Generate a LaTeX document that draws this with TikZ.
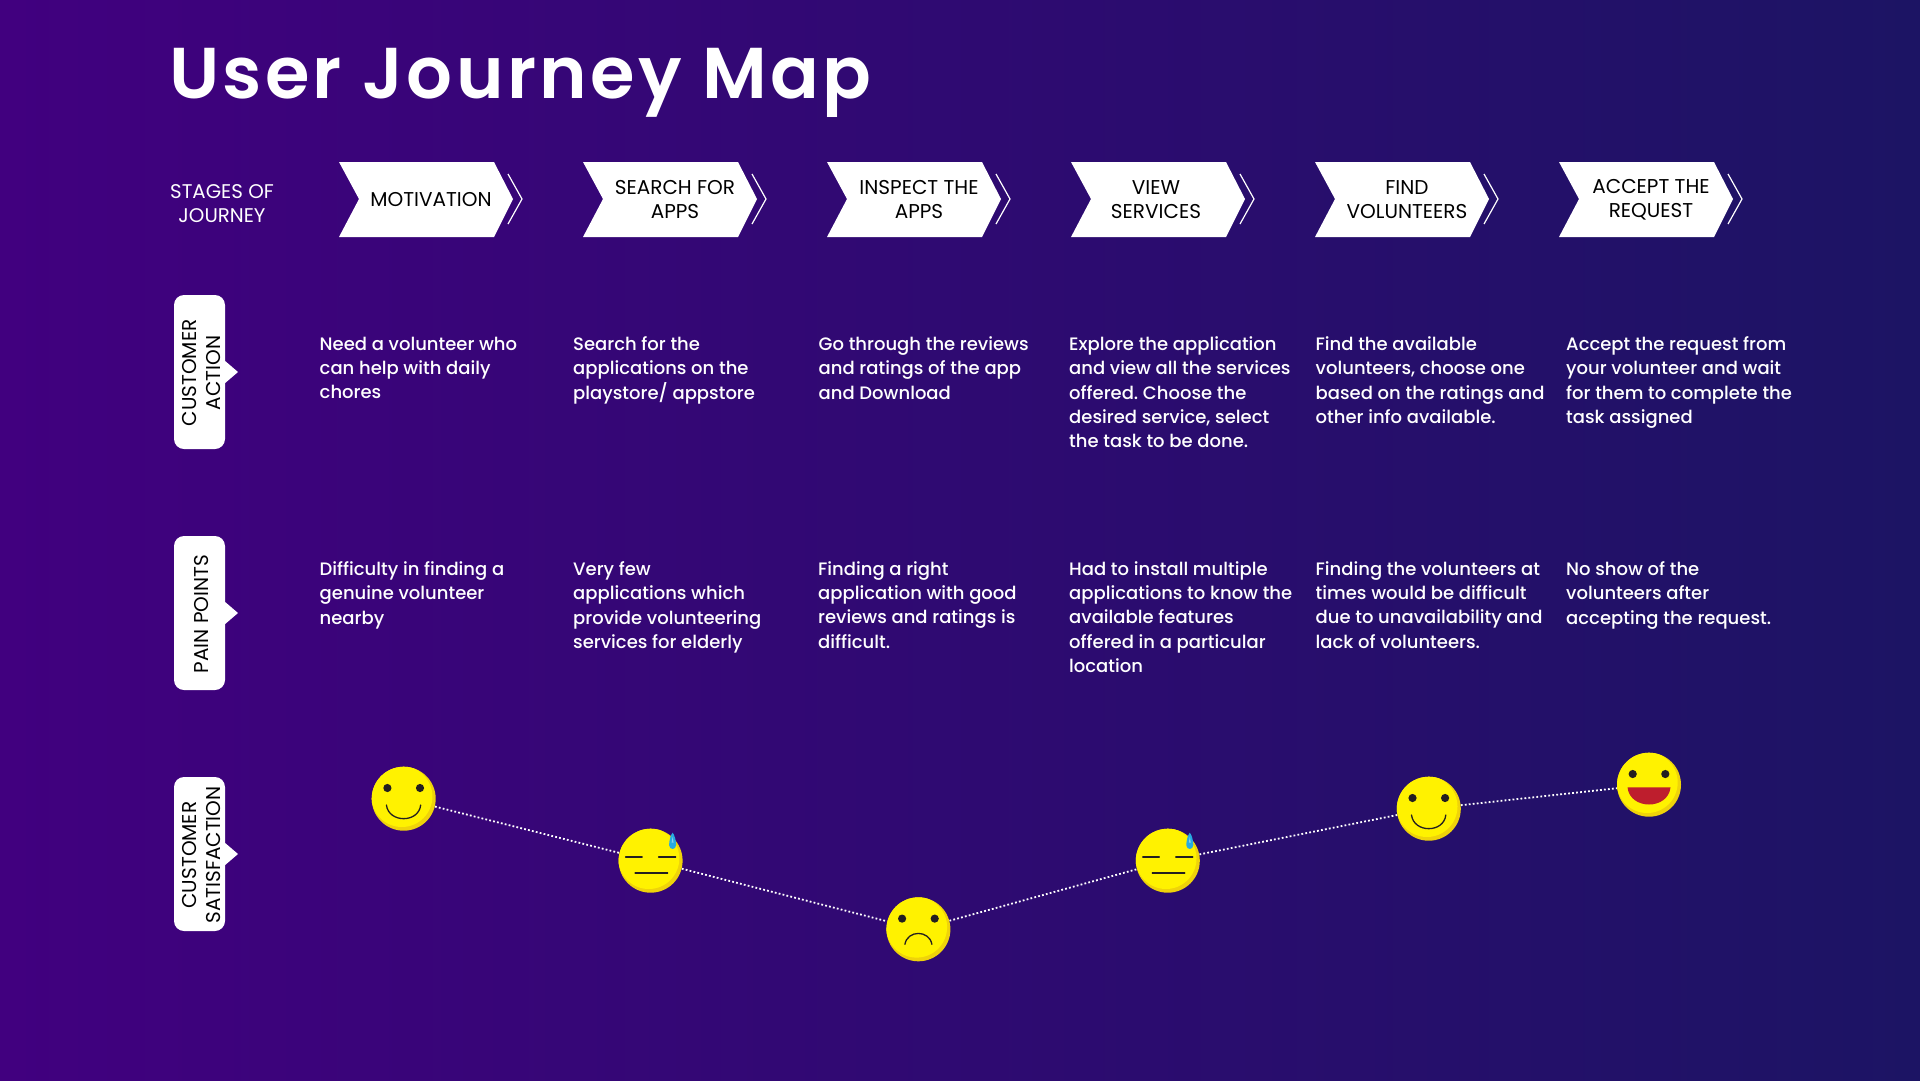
\documentclass[tikz,border=0pt]{standalone}
\usepackage{fontspec}
\setmainfont{Poppins}
\newfontfamily\titlef[LetterSpace=4.6,UprightFont=* SemiBold]{Poppins}
\newfontfamily\bodyf[UprightFont=* Medium]{Poppins}
\frenchspacing
\definecolor{bgL}{HTML}{41007F}
\definecolor{bgR}{HTML}{1C1464}
\definecolor{faceA}{HTML}{FFF200}
\definecolor{faceB}{HTML}{EFD30A}
\definecolor{ink}{HTML}{231F20}
\definecolor{drop}{HTML}{27AAE1}
\definecolor{lip}{HTML}{BE1E2D}
\tikzset{
  x=1pt,y=-1pt,
  stagetext/.style={inner sep=0,align=center,text=black,font=\fontsize{20}{24}\selectfont},
  sidepanel/.style={fill=white,rounded corners=10,minimum width=51,minimum height=154,inner sep=0},
  sidetext/.style={rotate=90,inner sep=0,align=center,text=black,font=\fontsize{20}{24}\selectfont},
  bodytext/.style={anchor=north west,inner sep=0,align=left,text=white,font=\bodyf\fontsize{18}{24.3}\selectfont},
  facenode/.style={circle,minimum size=64,inner sep=0},
  link/.style={white,line width=1.8,dash pattern=on 1.8 off 2.2},
  stroke/.style={ink,line width=1.3,line cap=round},
}
\newcommand\stagebox[4][0]{%
  \fill[white] (#2,162) -- ++(155,0) -- ++(19,37) -- ++(-19,38) -- ++(-155,0) -- ++(20,-38) -- cycle;
  \draw[white,line width=1.2] (#2+169,174) -- (#2+183,199) -- (#2+169,224);
  \node[stagetext] (#3) at (#2+92+#1,199.5) {#4};
}
\newcommand\sidebox[3]{%
  \fill[white] (224,#2-12) -- (238,#2) -- (224,#2+12) -- cycle;
  \node[sidepanel] (#1) at (199.5,#2) {};
  \node[sidetext,xshift=-1pt,yshift=-2.5pt] (#1label) at (#1.center) {#3};
}
\newcommand\facebody[1]{%
  \fill[faceB] (#1) circle[radius=32];
  \begin{scope}
    \clip (#1) circle[radius=32];
    \fill[faceA] ([shift={(-1.8,-2.2)}]#1) circle[radius=30.5];
  \end{scope}
}
\newcommand\eyes[1]{%
  \fill[ink] ([shift={(-16.3,-10.7)}]#1) circle[radius=4.1];
  \fill[ink] ([shift={(16.3,-10.7)}]#1) circle[radius=4.1];
}
\newcommand\smileface[1]{%
  \facebody{#1}\eyes{#1}
  \draw[stroke] ([shift={(-17.3,6.3)}]#1) .. controls ([shift={(-15,24.5)}]#1) and ([shift={(15,24.5)}]#1) .. ([shift={(17,6.3)}]#1);
}
\newcommand\frownface[1]{%
  \facebody{#1}\eyes{#1}
  \draw[stroke] ([shift={(-13.5,15)}]#1) .. controls ([shift={(-11,0.5)}]#1) and ([shift={(11,0.5)}]#1) .. ([shift={(13.5,15)}]#1);
}
\newcommand\flatface[1]{%
  \facebody{#1}
  \draw[stroke] ([shift={(-25,-3.7)}]#1) -- ([shift={(-8.5,-3.7)}]#1);
  \draw[stroke] ([shift={(8,-3.7)}]#1) -- ([shift={(25,-3.7)}]#1);
  \draw[stroke] ([shift={(-15.5,12.3)}]#1) -- ([shift={(17,12.3)}]#1);
  \fill[drop] ([shift={(22,-28)}]#1) .. controls ([shift={(24,-26)}]#1) and ([shift={(25.5,-20)}]#1) .. ([shift={(25.5,-15.5)}]#1)
     .. controls ([shift={(25.2,-10.5)}]#1) and ([shift={(18.8,-10.5)}]#1) .. ([shift={(18.5,-15.5)}]#1)
     .. controls ([shift={(18.5,-20)}]#1) and ([shift={(20,-26)}]#1) .. ([shift={(22,-28)}]#1);
  \fill[white,opacity=.45] ([shift={(22,-24)}]#1) -- ([shift={(23,-18)}]#1) -- ([shift={(21,-18)}]#1) -- cycle;
}
\newcommand\laughface[1]{%
  \facebody{#1}\eyes{#1}
  \fill[lip] ([shift={(-21.5,2.7)}]#1) -- ([shift={(21.5,2.7)}]#1) .. controls ([shift={(19,25.5)}]#1) and ([shift={(-19,25.5)}]#1) .. cycle;
}
\begin{document}
\begin{tikzpicture}
\path[use as bounding box] (0,0) rectangle (1920,1080);
\shade[left color=bgL,right color=bgR] (0,0) rectangle (1920,1080);

\node[anchor=base west,inner sep=0,text=white,font=\titlef\fontsize{72}{72}\selectfont] (title) at (169,98) {User Journey Map};

\node[inner sep=0,align=center,text=white,font=\fontsize{19.8}{23.5}\selectfont] (stages) at (222,203.5) {STAGES OF\\JOURNEY};

\stagebox{339}{s1}{MOTIVATION}
\stagebox{583}{s2}{SEARCH FOR\\APPS}
\stagebox{827}{s3}{INSPECT THE\\APPS}
\stagebox[-7]{1071}{s4}{VIEW\\SERVICES}
\stagebox{1315}{s5}{FIND\\VOLUNTEERS}
\stagebox{1559}{s6}{ACCEPT THE\\REQUEST}

\sidebox{action}{372}{CUSTOMER\\ACTION}
\sidebox{pain}{613}{PAIN POINTS}
\sidebox{satisfaction}{854}{CUSTOMER\\SATISFACTION}

\node[bodytext] (a1) at (319.5,336.5) {Need a volunteer who\\can help with daily\\chores};
\node[bodytext] (a2) at (573,336.5) {Search for the\\applications on the\\playstore/ appstore};
\node[bodytext] (a3) at (818.5,336.5) {Go through the reviews\\and ratings of the app\\and Download};
\node[bodytext] (a4) at (1069,336.5) {Explore the application\\and view all the services\\offered. Choose the\\desired service, select\\the task to be done.};
\node[bodytext] (a5) at (1315.5,336.5) {Find the available\\volunteers, choose one\\based on the ratings and\\other info available.};
\node[bodytext] (a6) at (1566,336.5) {Accept the request from\\your volunteer and wait\\for them to complete the\\task assigned};

\node[bodytext] (p1) at (319.5,561.3) {Difficulty in finding a\\genuine volunteer\\nearby};
\node[bodytext] (p2) at (573,561.3) {Very few\\applications which\\provide volunteering\\services for elderly};
\node[bodytext] (p3) at (818,561.3) {Finding a right\\application with good\\reviews and ratings is\\difficult.};
\node[bodytext] (p4) at (1069,561.3) {Had to install multiple\\applications to know the\\available features\\offered in a particular\\location};
\node[bodytext] (p5) at (1315.5,561.3) {Finding the volunteers at\\times would be difficult\\due to unavailability and\\lack of volunteers.};
\node[bodytext] (p6) at (1566,561.3) {No show of the\\volunteers after\\accepting the request.};

\node[facenode] (f1) at (403.7,798.7) {};
\node[facenode] (f2) at (650.6,860.7) {};
\node[facenode] (f3) at (918.4,929.3) {};
\node[facenode] (f4) at (1167.8,860.7) {};
\node[facenode] (f5) at (1428.8,808.7) {};
\node[facenode] (f6) at (1649,784.7) {};

\draw[link] (f1) -- (f2);
\draw[link] (f2) -- (f3);
\draw[link] (f3) -- (f4);
\draw[link] (f4) -- (f5);
\draw[link] (f5) -- (f6);

\smileface{f1.center}
\flatface{f2.center}
\frownface{f3.center}
\flatface{f4.center}
\smileface{f5.center}
\laughface{f6.center}
\end{tikzpicture}
\end{document}
